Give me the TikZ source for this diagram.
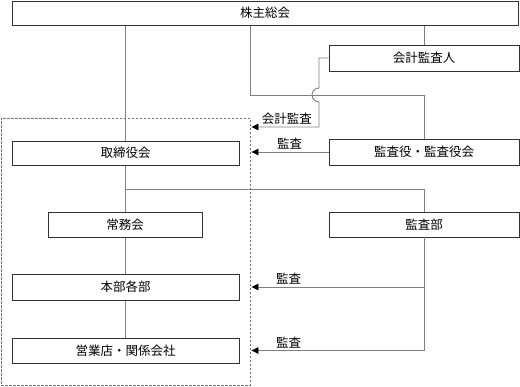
\documentclass[tikz,border=0pt]{standalone}
\usepackage{fontspec}
\newfontfamily\jpfont{Noto Sans CJK JP}
\usepackage{tikz}
\usetikzlibrary{arrows.meta, positioning}

\begin{document}
\begin{tikzpicture}[
    x=1pt, y=-1pt,
    orgbox/.style={draw=black!80, line width=0.9pt, fill=white, inner sep=0pt, font=\jpfont\fontsize{12.5}{14}\selectfont},
    conn/.style={draw=black!50, line width=0.9pt},
    arrw/.style={conn, -{Triangle[length=7pt, width=6.5pt, color=black, fill=black]}, shorten >=1pt},
    lbl/.style={font=\jpfont\fontsize{12.5}{14}\selectfont, inner sep=2pt, above}
]
\useasboundingbox (0,0) rectangle (520,386);
% audited area
\node[draw=black!55, dash pattern=on 2.5pt off 1.5pt, line width=0.9pt, minimum width=249pt, minimum height=267pt, inner sep=0pt] (inner) at (125.5,251.5) {};
% connectors
\draw[conn] (125,25) -- (125,141);
\draw[conn] (125,165) -- (125,212);
\draw[conn] (125,237) -- (125,274);
\draw[conn] (125,300) -- (125,338);
\draw[conn] (424,25) -- (424,45);
\draw[conn] (250,25) |- (424,95) -- (424,139);
\draw[conn] (125,189) -| (424,212);
% boxes
\node[orgbox, minimum width=506pt, minimum height=24pt] (soukai) at (265,13) {株主総会};
\node[orgbox, minimum width=190pt, minimum height=26pt] (kaikei) at (424,58) {会計監査人};
\node[orgbox, minimum width=190pt, minimum height=26pt] (kansayaku) at (424,152) {監査役・監査役会};
\node[orgbox, minimum width=227pt, minimum height=24pt] (torishimari) at (125.5,153) {取締役会};
\node[orgbox, minimum width=154pt, minimum height=25pt] (joumu) at (125,224.5) {常務会};
\node[orgbox, minimum width=190pt, minimum height=25pt] (kansabu) at (424,224.5) {監査部};
\node[orgbox, minimum width=227pt, minimum height=26pt] (honbu) at (125.5,287) {本部各部};
\node[orgbox, minimum width=227pt, minimum height=25pt] (eigyo) at (125.5,350.5) {営業店・関係会社};
% audit arrows
\draw[arrw] (kaikei.west) -| (319,88) arc[start angle=90, end angle=270, radius=7pt] -- (319,127) -- (inner.east |- 0,127) node[lbl, pos=0.47] {会計監査};
\draw[arrw] (kansayaku.west) -- (kansayaku.west -| inner.east) node[lbl, midway] {監査};
\draw[arrw] (kansabu.south) |- (eigyo.east -| inner.east) node[lbl, pos=0.89] {監査};
\draw[arrw] (kansabu.south |- honbu.east) -- (honbu.east -| inner.east) node[lbl, pos=0.78] {監査};
\end{tikzpicture}
\end{document}
